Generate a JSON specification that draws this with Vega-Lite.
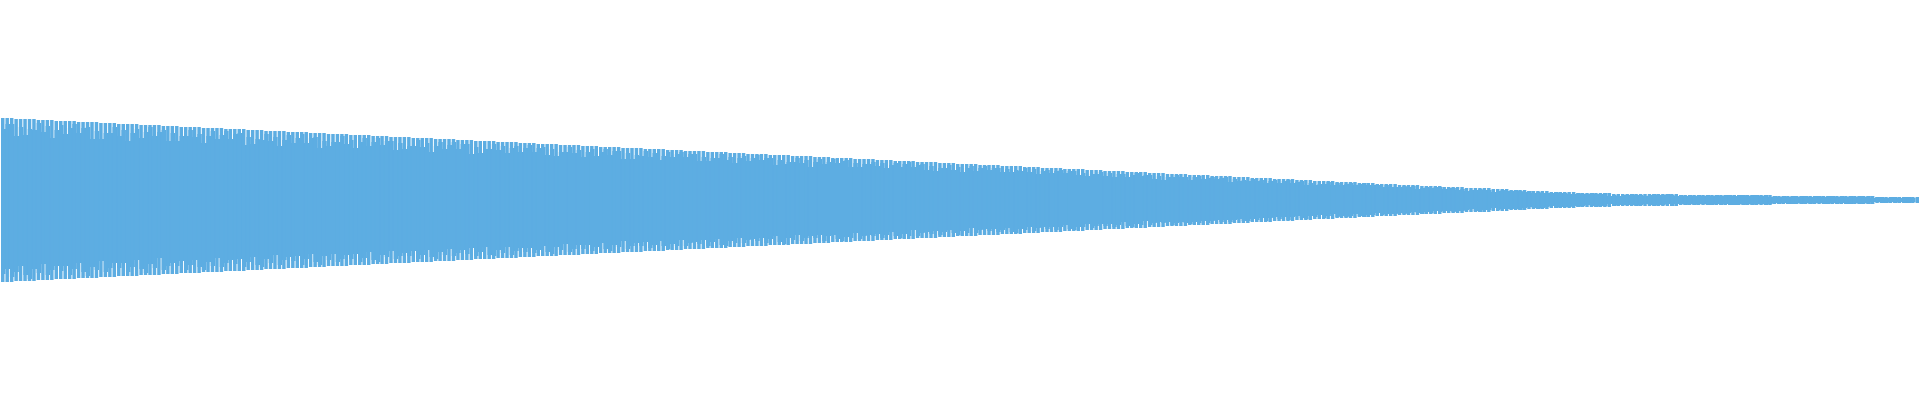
{
  "$schema": "https://vega.github.io/schema/vega-lite/v6.json",
  "width": 1920,
  "height": 400,
  "autosize": {"type": "fit", "contains": "padding"},
  "padding": 0,
  "background": "white",
  "config": {"view": {"stroke": null}},
  "data": {"values": [
    {"i":0,"a":82,"b":-82,"c":71,"d":-74},{"i":1,"a":82,"b":-82,"c":76,"d":-69},{"i":2,"a":82,"b":-82,"c":76,"d":-77},{"i":3,"a":81,"b":-81,"c":64,"d":-72},{"i":4,"a":81,"b":-81,"c":73,"d":-66},
    {"i":5,"a":81,"b":-81,"c":65,"d":-75},{"i":6,"a":81,"b":-81,"c":71,"d":-79},{"i":7,"a":81,"b":-81,"c":70,"d":-69},{"i":8,"a":80,"b":-80,"c":77,"d":-73},{"i":9,"a":80,"b":-80,"c":68,"d":-64},
    {"i":10,"a":80,"b":-80,"c":74,"d":-75},{"i":11,"a":80,"b":-80,"c":62,"d":-70},{"i":12,"a":79,"b":-79,"c":70,"d":-66},{"i":13,"a":79,"b":-79,"c":75,"d":-71},{"i":14,"a":79,"b":-79,"c":66,"d":-66},
    {"i":15,"a":79,"b":-79,"c":72,"d":-75},{"i":16,"a":79,"b":-79,"c":76,"d":-69},{"i":17,"a":78,"b":-78,"c":67,"d":-63},{"i":18,"a":78,"b":-78,"c":72,"d":-72},{"i":19,"a":78,"b":-78,"c":73,"d":-76},
    {"i":20,"a":78,"b":-78,"c":61,"d":-67},{"i":21,"a":78,"b":-78,"c":69,"d":-70},{"i":22,"a":77,"b":-77,"c":61,"d":-61},{"i":23,"a":77,"b":-77,"c":67,"d":-72},{"i":24,"a":77,"b":-77,"c":67,"d":-68},
    {"i":25,"a":77,"b":-77,"c":73,"d":-63},{"i":26,"a":76,"b":-76,"c":64,"d":-68},{"i":27,"a":76,"b":-76,"c":70,"d":-63},{"i":28,"a":76,"b":-76,"c":59,"d":-72},{"i":29,"a":76,"b":-76,"c":67,"d":-67},
    {"i":30,"a":76,"b":-76,"c":71,"d":-60},{"i":31,"a":75,"b":-75,"c":62,"d":-69},{"i":32,"a":75,"b":-75,"c":68,"d":-73},{"i":33,"a":75,"b":-75,"c":73,"d":-64},{"i":34,"a":75,"b":-75,"c":64,"d":-68},
    {"i":35,"a":75,"b":-75,"c":68,"d":-58},{"i":36,"a":74,"b":-74,"c":70,"d":-70},{"i":37,"a":74,"b":-74,"c":59,"d":-66},{"i":38,"a":74,"b":-74,"c":67,"d":-63},{"i":39,"a":74,"b":-74,"c":59,"d":-66},
    {"i":40,"a":73,"b":-73,"c":64,"d":-61},{"i":41,"a":73,"b":-73,"c":64,"d":-70},{"i":42,"a":73,"b":-73,"c":70,"d":-65},{"i":43,"a":73,"b":-73,"c":63,"d":-60},{"i":44,"a":73,"b":-73,"c":66,"d":-67},
    {"i":45,"a":72,"b":-72,"c":57,"d":-70},{"i":46,"a":72,"b":-72,"c":64,"d":-62},{"i":47,"a":72,"b":-72,"c":69,"d":-66},{"i":48,"a":72,"b":-72,"c":61,"d":-58},{"i":49,"a":72,"b":-72,"c":65,"d":-67},
    {"i":50,"a":71,"b":-71,"c":69,"d":-63},{"i":51,"a":71,"b":-71,"c":61,"d":-60},{"i":52,"a":71,"b":-71,"c":66,"d":-64},{"i":53,"a":71,"b":-71,"c":67,"d":-59},{"i":54,"a":71,"b":-71,"c":55,"d":-67},
    {"i":55,"a":70,"b":-70,"c":63,"d":-62},{"i":56,"a":70,"b":-70,"c":56,"d":-57},{"i":57,"a":70,"b":-70,"c":61,"d":-65},{"i":58,"a":70,"b":-70,"c":60,"d":-67},{"i":59,"a":69,"b":-69,"c":66,"d":-59},
    {"i":60,"a":69,"b":-69,"c":59,"d":-63},{"i":61,"a":69,"b":-69,"c":63,"d":-55},{"i":62,"a":69,"b":-69,"c":54,"d":-65},{"i":63,"a":69,"b":-69,"c":60,"d":-60},{"i":64,"a":68,"b":-68,"c":65,"d":-57},
    {"i":65,"a":68,"b":-68,"c":57,"d":-61},{"i":66,"a":68,"b":-68,"c":62,"d":-56},{"i":67,"a":68,"b":-68,"c":66,"d":-65},{"i":68,"a":68,"b":-68,"c":57,"d":-59},{"i":69,"a":67,"b":-67,"c":62,"d":-54},
    {"i":70,"a":67,"b":-67,"c":63,"d":-62},{"i":71,"a":67,"b":-67,"c":52,"d":-65},{"i":72,"a":67,"b":-67,"c":59,"d":-56},{"i":73,"a":66,"b":-66,"c":54,"d":-60},{"i":74,"a":66,"b":-66,"c":58,"d":-54},
    {"i":75,"a":66,"b":-66,"c":58,"d":-62},{"i":76,"a":66,"b":-66,"c":64,"d":-59},{"i":77,"a":66,"b":-66,"c":56,"d":-55},{"i":78,"a":65,"b":-65,"c":60,"d":-59},{"i":79,"a":65,"b":-65,"c":52,"d":-54},
    {"i":80,"a":65,"b":-65,"c":58,"d":-62},{"i":81,"a":65,"b":-65,"c":62,"d":-58},{"i":82,"a":65,"b":-65,"c":54,"d":-52},{"i":83,"a":64,"b":-64,"c":58,"d":-60},{"i":84,"a":64,"b":-64,"c":62,"d":-62},
    {"i":85,"a":64,"b":-64,"c":55,"d":-55},{"i":86,"a":64,"b":-64,"c":59,"d":-57},{"i":87,"a":63,"b":-63,"c":59,"d":-51},{"i":88,"a":63,"b":-63,"c":50,"d":-59},{"i":89,"a":63,"b":-63,"c":57,"d":-56},
    {"i":90,"a":63,"b":-63,"c":51,"d":-53},{"i":91,"a":63,"b":-63,"c":54,"d":-56},{"i":92,"a":62,"b":-62,"c":54,"d":-51},{"i":93,"a":62,"b":-62,"c":60,"d":-59},{"i":94,"a":62,"b":-62,"c":53,"d":-55},
    {"i":95,"a":62,"b":-62,"c":57,"d":-50},{"i":96,"a":62,"b":-62,"c":48,"d":-57},{"i":97,"a":61,"b":-61,"c":54,"d":-59},{"i":98,"a":61,"b":-61,"c":58,"d":-52},{"i":99,"a":61,"b":-61,"c":51,"d":-55},
    {"i":100,"a":61,"b":-61,"c":55,"d":-49},{"i":101,"a":61,"b":-61,"c":58,"d":-56},{"i":102,"a":60,"b":-60,"c":51,"d":-53},{"i":103,"a":60,"b":-60,"c":56,"d":-50},{"i":104,"a":60,"b":-60,"c":56,"d":-54},
    {"i":105,"a":60,"b":-60,"c":46,"d":-48},{"i":106,"a":59,"b":-59,"c":53,"d":-56},{"i":107,"a":59,"b":-59,"c":47,"d":-52},{"i":108,"a":59,"b":-59,"c":51,"d":-47},{"i":109,"a":59,"b":-59,"c":51,"d":-55},
    {"i":110,"a":59,"b":-59,"c":56,"d":-56},{"i":111,"a":58,"b":-58,"c":50,"d":-50},{"i":112,"a":58,"b":-58,"c":54,"d":-53},{"i":113,"a":58,"b":-58,"c":47,"d":-47},{"i":114,"a":58,"b":-58,"c":52,"d":-55},
    {"i":115,"a":58,"b":-58,"c":54,"d":-51},{"i":116,"a":57,"b":-57,"c":48,"d":-48},{"i":117,"a":57,"b":-57,"c":52,"d":-52},{"i":118,"a":57,"b":-57,"c":55,"d":-48},{"i":119,"a":57,"b":-57,"c":48,"d":-53},
    {"i":120,"a":56,"b":-56,"c":52,"d":-50},{"i":121,"a":56,"b":-56,"c":53,"d":-46},{"i":122,"a":56,"b":-56,"c":45,"d":-52},{"i":123,"a":56,"b":-56,"c":51,"d":-54},{"i":124,"a":56,"b":-56,"c":44,"d":-47},
    {"i":125,"a":55,"b":-55,"c":48,"d":-50},{"i":126,"a":55,"b":-55,"c":48,"d":-44},{"i":127,"a":55,"b":-55,"c":53,"d":-52},{"i":128,"a":55,"b":-55,"c":47,"d":-49},{"i":129,"a":55,"b":-55,"c":50,"d":-45},
    {"i":130,"a":54,"b":-54,"c":43,"d":-49},{"i":131,"a":54,"b":-54,"c":48,"d":-45},{"i":132,"a":54,"b":-54,"c":51,"d":-51},{"i":133,"a":54,"b":-54,"c":44,"d":-47},{"i":134,"a":53,"b":-53,"c":48,"d":-43},
    {"i":135,"a":53,"b":-53,"c":51,"d":-49},{"i":136,"a":53,"b":-53,"c":45,"d":-51},{"i":137,"a":53,"b":-53,"c":49,"d":-45},{"i":138,"a":53,"b":-53,"c":49,"d":-47},{"i":139,"a":52,"b":-52,"c":41,"d":-41},
    {"i":140,"a":52,"b":-52,"c":47,"d":-49},{"i":141,"a":52,"b":-52,"c":41,"d":-46},{"i":142,"a":52,"b":-52,"c":45,"d":-43},{"i":143,"a":52,"b":-52,"c":44,"d":-46},{"i":144,"a":51,"b":-51,"c":49,"d":-42},
    {"i":145,"a":51,"b":-51,"c":43,"d":-48},{"i":146,"a":51,"b":-51,"c":47,"d":-45},{"i":147,"a":51,"b":-51,"c":40,"d":-41},{"i":148,"a":51,"b":-51,"c":44,"d":-46},{"i":149,"a":50,"b":-50,"c":48,"d":-49},
    {"i":150,"a":50,"b":-50,"c":43,"d":-44},{"i":151,"a":50,"b":-50,"c":46,"d":-46},{"i":152,"a":50,"b":-50,"c":48,"d":-40},{"i":153,"a":49,"b":-49,"c":43,"d":-46},{"i":154,"a":49,"b":-49,"c":46,"d":-43},
    {"i":155,"a":49,"b":-49,"c":46,"d":-42},{"i":156,"a":49,"b":-49,"c":39,"d":-44},{"i":157,"a":49,"b":-49,"c":43,"d":-40},{"i":158,"a":48,"b":-48,"c":39,"d":-46},{"i":159,"a":48,"b":-48,"c":42,"d":-42},
    {"i":160,"a":48,"b":-48,"c":42,"d":-39},{"i":161,"a":48,"b":-48,"c":46,"d":-45},{"i":162,"a":48,"b":-48,"c":40,"d":-46},{"i":163,"a":47,"b":-47,"c":43,"d":-41},{"i":164,"a":47,"b":-47,"c":37,"d":-43},
    {"i":165,"a":47,"b":-47,"c":42,"d":-38},{"i":166,"a":47,"b":-47,"c":44,"d":-43},{"i":167,"a":46,"b":-46,"c":39,"d":-40},{"i":168,"a":46,"b":-46,"c":42,"d":-39},{"i":169,"a":46,"b":-46,"c":45,"d":-41},
    {"i":170,"a":46,"b":-46,"c":40,"d":-38},{"i":171,"a":46,"b":-46,"c":42,"d":-43},{"i":172,"a":45,"b":-45,"c":42,"d":-39},{"i":173,"a":45,"b":-45,"c":35,"d":-36},{"i":174,"a":45,"b":-45,"c":40,"d":-42},
    {"i":175,"a":45,"b":-45,"c":36,"d":-44},{"i":176,"a":45,"b":-45,"c":38,"d":-38},{"i":177,"a":44,"b":-44,"c":38,"d":-40},{"i":178,"a":44,"b":-44,"c":42,"d":-35},{"i":179,"a":44,"b":-44,"c":37,"d":-41},
    {"i":180,"a":44,"b":-44,"c":40,"d":-38},{"i":181,"a":44,"b":-44,"c":33,"d":-36},{"i":182,"a":43,"b":-43,"c":38,"d":-38},{"i":183,"a":43,"b":-43,"c":41,"d":-35},{"i":184,"a":43,"b":-43,"c":36,"d":-41},
    {"i":185,"a":43,"b":-43,"c":38,"d":-36},{"i":186,"a":42,"b":-42,"c":41,"d":-35},{"i":187,"a":42,"b":-42,"c":37,"d":-39},{"i":188,"a":42,"b":-42,"c":39,"d":-41},{"i":189,"a":42,"b":-42,"c":40,"d":-37},
    {"i":190,"a":42,"b":-42,"c":33,"d":-38},{"i":191,"a":41,"b":-41,"c":37,"d":-33},{"i":192,"a":41,"b":-41,"c":33,"d":-39},{"i":193,"a":41,"b":-41,"c":36,"d":-36},{"i":194,"a":41,"b":-41,"c":36,"d":-35},
    {"i":195,"a":41,"b":-41,"c":38,"d":-36},{"i":196,"a":40,"b":-40,"c":34,"d":-34},{"i":197,"a":40,"b":-40,"c":37,"d":-38},{"i":198,"a":40,"b":-40,"c":32,"d":-35},{"i":199,"a":40,"b":-40,"c":35,"d":-32},
    {"i":200,"a":39,"b":-39,"c":37,"d":-36},{"i":201,"a":39,"b":-39,"c":33,"d":-38},{"i":202,"a":39,"b":-39,"c":36,"d":-34},{"i":203,"a":39,"b":-39,"c":38,"d":-36},{"i":204,"a":39,"b":-39,"c":33,"d":-30},
    {"i":205,"a":38,"b":-38,"c":35,"d":-36},{"i":206,"a":38,"b":-38,"c":36,"d":-33},{"i":207,"a":38,"b":-38,"c":30,"d":-32},{"i":208,"a":38,"b":-38,"c":34,"d":-34},{"i":209,"a":38,"b":-38,"c":29,"d":-31},
    {"i":210,"a":37,"b":-37,"c":32,"d":-35},{"i":211,"a":37,"b":-37,"c":32,"d":-32},{"i":212,"a":37,"b":-37,"c":35,"d":-30},{"i":213,"a":37,"b":-37,"c":30,"d":-33},{"i":214,"a":36,"b":-36,"c":33,"d":-35},
    {"i":215,"a":36,"b":-36,"c":28,"d":-31},{"i":216,"a":36,"b":-36,"c":32,"d":-33},{"i":217,"a":36,"b":-36,"c":34,"d":-28},{"i":218,"a":36,"b":-36,"c":29,"d":-33},{"i":219,"a":35,"b":-35,"c":32,"d":-30},
    {"i":220,"a":35,"b":-35,"c":34,"d":-29},{"i":221,"a":35,"b":-35,"c":30,"d":-31},{"i":222,"a":35,"b":-35,"c":32,"d":-29},{"i":223,"a":35,"b":-35,"c":32,"d":-32},{"i":224,"a":34,"b":-34,"c":28,"d":-30},
    {"i":225,"a":34,"b":-34,"c":31,"d":-28},{"i":226,"a":34,"b":-34,"c":28,"d":-32},{"i":227,"a":34,"b":-34,"c":30,"d":-33},{"i":228,"a":34,"b":-34,"c":29,"d":-29},{"i":229,"a":33,"b":-33,"c":32,"d":-30},
    {"i":230,"a":33,"b":-33,"c":28,"d":-27},{"i":231,"a":33,"b":-33,"c":31,"d":-31},{"i":232,"a":33,"b":-33,"c":26,"d":-28},{"i":233,"a":32,"b":-32,"c":29,"d":-27},{"i":234,"a":32,"b":-32,"c":30,"d":-29},
    {"i":235,"a":32,"b":-32,"c":27,"d":-27},{"i":236,"a":32,"b":-32,"c":29,"d":-30},{"i":237,"a":32,"b":-32,"c":30,"d":-27},{"i":238,"a":31,"b":-31,"c":27,"d":-25},{"i":239,"a":31,"b":-31,"c":29,"d":-29},
    {"i":240,"a":31,"b":-31,"c":29,"d":-30},{"i":241,"a":31,"b":-31,"c":25,"d":-27},{"i":242,"a":31,"b":-31,"c":27,"d":-27},{"i":243,"a":30,"b":-30,"c":24,"d":-24},{"i":244,"a":30,"b":-30,"c":26,"d":-28},
    {"i":245,"a":30,"b":-30,"c":26,"d":-26},{"i":246,"a":30,"b":-30,"c":28,"d":-24},{"i":247,"a":29,"b":-29,"c":24,"d":-26},{"i":248,"a":29,"b":-29,"c":27,"d":-24},{"i":249,"a":29,"b":-29,"c":23,"d":-27},
    {"i":250,"a":29,"b":-29,"c":26,"d":-25},{"i":251,"a":29,"b":-29,"c":26,"d":-22},{"i":252,"a":28,"b":-28,"c":23,"d":-26},{"i":253,"a":28,"b":-28,"c":25,"d":-27},{"i":254,"a":28,"b":-28,"c":27,"d":-24},
    {"i":255,"a":28,"b":-28,"c":24,"d":-25},{"i":256,"a":28,"b":-28,"c":25,"d":-21},{"i":257,"a":27,"b":-27,"c":25,"d":-25},{"i":258,"a":27,"b":-27,"c":21,"d":-23},{"i":259,"a":27,"b":-27,"c":24,"d":-22},
    {"i":260,"a":27,"b":-27,"c":20,"d":-23},{"i":261,"a":26,"b":-26,"c":23,"d":-22},{"i":262,"a":26,"b":-26,"c":23,"d":-25},{"i":263,"a":26,"b":-26,"c":25,"d":-23},{"i":264,"a":26,"b":-26,"c":23,"d":-22},
    {"i":265,"a":26,"b":-26,"c":23,"d":-23},{"i":266,"a":25,"b":-25,"c":20,"d":-24},{"i":267,"a":25,"b":-25,"c":23,"d":-22},{"i":268,"a":25,"b":-25,"c":24,"d":-23},{"i":269,"a":25,"b":-25,"c":21,"d":-21},
    {"i":270,"a":25,"b":-25,"c":22,"d":-23},{"i":271,"a":24,"b":-24,"c":23,"d":-21},{"i":272,"a":24,"b":-24,"c":21,"d":-20},{"i":273,"a":24,"b":-24,"c":22,"d":-22},{"i":274,"a":24,"b":-24,"c":23,"d":-20},
    {"i":275,"a":24,"b":-24,"c":18,"d":-22},{"i":276,"a":23,"b":-23,"c":21,"d":-20},{"i":277,"a":23,"b":-23,"c":19,"d":-19},{"i":278,"a":23,"b":-23,"c":20,"d":-21},{"i":279,"a":23,"b":-23,"c":19,"d":-21},
    {"i":280,"a":22,"b":-22,"c":21,"d":-19},{"i":281,"a":22,"b":-22,"c":19,"d":-20},{"i":282,"a":22,"b":-22,"c":20,"d":-18},{"i":283,"a":22,"b":-22,"c":17,"d":-21},{"i":284,"a":22,"b":-22,"c":19,"d":-18},
    {"i":285,"a":21,"b":-21,"c":20,"d":-17},{"i":286,"a":21,"b":-21,"c":17,"d":-19},{"i":287,"a":21,"b":-21,"c":19,"d":-17},{"i":288,"a":21,"b":-21,"c":20,"d":-20},{"i":289,"a":21,"b":-21,"c":17,"d":-17},
    {"i":290,"a":20,"b":-20,"c":18,"d":-16},{"i":291,"a":20,"b":-20,"c":19,"d":-18},{"i":292,"a":20,"b":-20,"c":15,"d":-19},{"i":293,"a":20,"b":-20,"c":17,"d":-16},{"i":294,"a":19,"b":-19,"c":15,"d":-17},
    {"i":295,"a":19,"b":-19,"c":16,"d":-15},{"i":296,"a":19,"b":-19,"c":16,"d":-18},{"i":297,"a":19,"b":-19,"c":18,"d":-16},{"i":298,"a":19,"b":-19,"c":15,"d":-14},{"i":299,"a":18,"b":-18,"c":17,"d":-17},
    {"i":300,"a":18,"b":-18,"c":15,"d":-16},{"i":301,"a":18,"b":-18,"c":16,"d":-17},{"i":302,"a":18,"b":-18,"c":17,"d":-16},{"i":303,"a":18,"b":-18,"c":15,"d":-14},{"i":304,"a":17,"b":-17,"c":16,"d":-16},
    {"i":305,"a":17,"b":-17,"c":17,"d":-17},{"i":306,"a":17,"b":-17,"c":15,"d":-15},{"i":307,"a":17,"b":-17,"c":15,"d":-15},{"i":308,"a":16,"b":-16,"c":15,"d":-13},{"i":309,"a":16,"b":-16,"c":13,"d":-15},
    {"i":310,"a":16,"b":-16,"c":15,"d":-14},{"i":311,"a":16,"b":-16,"c":13,"d":-14},{"i":312,"a":16,"b":-16,"c":13,"d":-14},{"i":313,"a":15,"b":-15,"c":13,"d":-13},{"i":314,"a":15,"b":-15,"c":14,"d":-14},
    {"i":315,"a":15,"b":-15,"c":13,"d":-13},{"i":316,"a":15,"b":-15,"c":14,"d":-12},{"i":317,"a":15,"b":-15,"c":11,"d":-13},{"i":318,"a":14,"b":-14,"c":12,"d":-14},{"i":319,"a":14,"b":-14,"c":13,"d":-12},
    {"i":320,"a":14,"b":-14,"c":12,"d":-13},{"i":321,"a":14,"b":-14,"c":13,"d":-11},{"i":322,"a":14,"b":-14,"c":13,"d":-12},{"i":323,"a":13,"b":-13,"c":11,"d":-11},{"i":324,"a":13,"b":-13,"c":12,"d":-11},
    {"i":325,"a":13,"b":-13,"c":12,"d":-12},{"i":326,"a":13,"b":-13,"c":10,"d":-11},{"i":327,"a":13,"b":-13,"c":11,"d":-11},{"i":328,"a":12,"b":-12,"c":9,"d":-10},{"i":329,"a":12,"b":-12,"c":10,"d":-9},
    {"i":330,"a":12,"b":-12,"c":10,"d":-11},{"i":331,"a":12,"b":-12,"c":11,"d":-12},{"i":332,"a":12,"b":-12,"c":10,"d":-10},{"i":333,"a":12,"b":-12,"c":10,"d":-10},{"i":334,"a":11,"b":-11,"c":8,"d":-8},
    {"i":335,"a":11,"b":-11,"c":9,"d":-10},{"i":336,"a":11,"b":-11,"c":10,"d":-9},{"i":337,"a":11,"b":-11,"c":9,"d":-9},{"i":338,"a":10,"b":-10,"c":9,"d":-9},{"i":339,"a":10,"b":-10,"c":10,"d":-9},
    {"i":340,"a":10,"b":-10,"c":9,"d":-10},{"i":341,"a":10,"b":-10,"c":8,"d":-8},{"i":342,"a":9,"b":-9,"c":9,"d":-7},{"i":343,"a":9,"b":-9,"c":7,"d":-8},{"i":344,"a":9,"b":-9,"c":8,"d":-9},
    {"i":345,"a":9,"b":-9,"c":7,"d":-8},{"i":346,"a":9,"b":-9,"c":7,"d":-7},{"i":347,"a":8,"b":-8,"c":7,"d":-6},{"i":348,"a":8,"b":-8,"c":8,"d":-8},{"i":349,"a":8,"b":-8,"c":7,"d":-7},
    {"i":350,"a":8,"b":-8,"c":7,"d":-7},{"i":351,"a":8,"b":-8,"c":6,"d":-7},{"i":352,"a":8,"b":-8,"c":6,"d":-6},{"i":353,"a":7,"b":-7,"c":7,"d":-7},{"i":354,"a":7,"b":-7,"c":6,"d":-6},
    {"i":355,"a":7,"b":-7,"c":6,"d":-5},{"i":356,"a":7,"b":-7,"c":7,"d":-6},{"i":357,"a":7,"b":-7,"c":6,"d":-7},{"i":358,"a":7,"b":-7,"c":6,"d":-6},{"i":359,"a":7,"b":-7,"c":7,"d":-6},
    {"i":360,"a":7,"b":-7,"c":4,"d":-4},{"i":361,"a":6,"b":-6,"c":5,"d":-6},{"i":362,"a":6,"b":-6,"c":4,"d":-5},{"i":363,"a":6,"b":-6,"c":5,"d":-5},{"i":364,"a":6,"b":-6,"c":5,"d":-5},
    {"i":365,"a":6,"b":-6,"c":6,"d":-5},{"i":366,"a":6,"b":-6,"c":5,"d":-6},{"i":367,"a":6,"b":-6,"c":5,"d":-5},{"i":368,"a":6,"b":-6,"c":4,"d":-4},{"i":369,"a":6,"b":-6,"c":5,"d":-5},
    {"i":370,"a":6,"b":-6,"c":6,"d":-6},{"i":371,"a":6,"b":-6,"c":5,"d":-5},{"i":372,"a":6,"b":-6,"c":5,"d":-5},{"i":373,"a":6,"b":-6,"c":6,"d":-4},{"i":374,"a":6,"b":-6,"c":5,"d":-6},
    {"i":375,"a":6,"b":-6,"c":4,"d":-4},{"i":376,"a":5,"b":-5,"c":5,"d":-4},{"i":377,"a":5,"b":-5,"c":4,"d":-5},{"i":378,"a":5,"b":-5,"c":5,"d":-4},{"i":379,"a":5,"b":-5,"c":4,"d":-5},
    {"i":380,"a":5,"b":-5,"c":5,"d":-4},{"i":381,"a":5,"b":-5,"c":4,"d":-4},{"i":382,"a":5,"b":-5,"c":5,"d":-5},{"i":383,"a":5,"b":-5,"c":4,"d":-5},{"i":384,"a":5,"b":-5,"c":5,"d":-4},
    {"i":385,"a":5,"b":-5,"c":4,"d":-5},{"i":386,"a":5,"b":-5,"c":5,"d":-4},{"i":387,"a":5,"b":-5,"c":5,"d":-5},{"i":388,"a":5,"b":-5,"c":4,"d":-5},{"i":389,"a":5,"b":-5,"c":5,"d":-4},
    {"i":390,"a":5,"b":-5,"c":5,"d":-5},{"i":391,"a":5,"b":-5,"c":4,"d":-4},{"i":392,"a":5,"b":-5,"c":5,"d":-5},{"i":393,"a":5,"b":-5,"c":5,"d":-4},{"i":394,"a":5,"b":-5,"c":4,"d":-4},
    {"i":395,"a":5,"b":-5,"c":5,"d":-5},{"i":396,"a":5,"b":-5,"c":3,"d":-4},{"i":397,"a":4,"b":-4,"c":4,"d":-3},{"i":398,"a":4,"b":-4,"c":3,"d":-4},{"i":399,"a":4,"b":-4,"c":4,"d":-3},
    {"i":400,"a":4,"b":-4,"c":3,"d":-4},{"i":401,"a":4,"b":-4,"c":4,"d":-4},{"i":402,"a":4,"b":-4,"c":3,"d":-3},{"i":403,"a":4,"b":-4,"c":4,"d":-4},{"i":404,"a":4,"b":-4,"c":4,"d":-3},
    {"i":405,"a":4,"b":-4,"c":3,"d":-4},{"i":406,"a":4,"b":-4,"c":4,"d":-3},{"i":407,"a":4,"b":-4,"c":4,"d":-3},{"i":408,"a":4,"b":-4,"c":3,"d":-4},{"i":409,"a":4,"b":-4,"c":4,"d":-4},
    {"i":410,"a":4,"b":-4,"c":4,"d":-3},{"i":411,"a":4,"b":-4,"c":3,"d":-4},{"i":412,"a":4,"b":-4,"c":4,"d":-3},{"i":413,"a":4,"b":-4,"c":3,"d":-4},{"i":414,"a":4,"b":-4,"c":4,"d":-4},
    {"i":415,"a":4,"b":-4,"c":3,"d":-3},{"i":416,"a":4,"b":-4,"c":4,"d":-4},{"i":417,"a":4,"b":-4,"c":3,"d":-3},{"i":418,"a":4,"b":-4,"c":4,"d":-4},{"i":419,"a":4,"b":-4,"c":2,"d":-2},
    {"i":420,"a":3,"b":-3,"c":3,"d":-2},{"i":421,"a":3,"b":-3,"c":3,"d":-3},{"i":422,"a":3,"b":-3,"c":2,"d":-3},{"i":423,"a":3,"b":-3,"c":3,"d":-2},{"i":424,"a":3,"b":-3,"c":3,"d":-3},
    {"i":425,"a":3,"b":-3,"c":2,"d":-2},{"i":426,"a":3,"b":-3,"c":3,"d":-3},{"i":427,"a":3,"b":-3,"c":3,"d":-3},{"i":428,"a":3,"b":-3,"c":2,"d":-2},{"i":429,"a":3,"b":-3,"c":3,"d":-3}
  ]},
  "encoding": {
    "x": {
      "field": "i",
      "type": "ordinal",
      "axis": null,
      "scale": {"type": "band", "paddingInner": 0.22, "paddingOuter": 0}
    }
  },
  "layer": [
    {
      "mark": {"type": "area", "interpolate": "step-after", "color": "#5DADE2"},
      "encoding": {
        "x": {"field": "i", "type": "ordinal", "bandPosition": 0, "axis": null},
        "y": {"field": "c", "type": "quantitative", "scale": {"domain": [-200, 200]}, "axis": null},
        "y2": {"field": "d"}
      }
    },
    {
      "mark": {"type": "bar", "color": "#5DADE2"},
      "encoding": {
        "y": {"field": "a", "type": "quantitative", "scale": {"domain": [-200, 200]}, "axis": null},
        "y2": {"field": "b"}
      }
    }
  ]
}
